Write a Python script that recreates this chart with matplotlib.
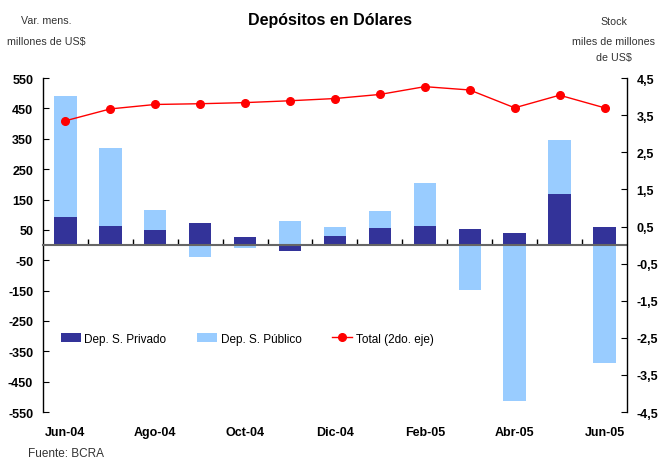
import numpy as np
import matplotlib.pyplot as plt
from matplotlib.ticker import FixedLocator, FuncFormatter

months = ['Jun-04', 'Jul-04', 'Ago-04', 'Sep-04', 'Oct-04', 'Nov-04', 'Dic-04',
          'Ene-05', 'Feb-05', 'Mar-05', 'Abr-05', 'May-05', 'Jun-05']
privado = [93, 64, 49, 72, 26, -19, 31, 56, 63, 53, 40, 168, 59]
publico = [399, 256, 66, -38, -9, 79, 29, 56, 141, -147, -513, 178, -388]
total = [3.35, 3.67, 3.79, 3.81, 3.84, 3.89, 3.95, 4.06, 4.27, 4.18, 3.70, 4.04, 3.70]

narrow = ['Liberation Sans Narrow', 'Liberation Sans', 'DejaVu Sans']
plt.rcParams['font.family'] = ['Liberation Sans', 'DejaVu Sans']
plt.rcParams['axes.unicode_minus'] = False

dark = '#333399'
light = '#99CCFF'
red = '#FF0000'

fig = plt.figure(figsize=(6.6, 4.6), dpi=100)
ax = fig.add_axes([0.065, 0.102, 0.885, 0.726])
ax2 = ax.twinx()

x = np.arange(len(months))
priv = np.array(privado)
pub = np.array(publico)
# excel-style stacking: positives stack up, negatives stack down
base_pub = np.where(np.sign(pub) == np.sign(priv), priv, 0)
b1 = ax.bar(x, priv, width=0.5, color=dark, label='Dep. S. Privado', zorder=2)
b2 = ax.bar(x, pub, width=0.5, bottom=base_pub, color=light, label='Dep. S. Público', zorder=2)

l1, = ax2.plot(x, total, color=red, lw=1, marker='o', ms=5.5, label='Total (2do. eje)')

ax.set_xlim(-0.5, len(months) - 0.5)
ax.set_ylim(-550, 550)
ax2.set_ylim(-4.5, 4.5)

ax.set_yticks(np.arange(-550, 551, 100))
ax2.set_yticks(np.arange(-4.5, 4.6, 1.0))
ax2.yaxis.set_major_formatter(FuncFormatter(lambda v, p: f'{v:.1f}'.replace('.', ',')))

for a in (ax, ax2):
    a.spines['top'].set_visible(False)
ax2.spines['bottom'].set_visible(False)
ax.spines['right'].set_visible(False)
ax2.spines['left'].set_visible(False)
ax.spines['bottom'].set_position(('data', 0))
ax.spines['bottom'].set_color('#666666')
ax.spines['bottom'].set_linewidth(1.5)
ax.spines['left'].set_linewidth(1)
ax2.spines['right'].set_linewidth(1)

ax.set_xticks(x[::2])
ax.set_xticklabels(months[::2])
ax.xaxis.set_minor_locator(FixedLocator(x[:-1] + 0.5))
ax.tick_params(axis='x', which='major', length=0, pad=130, labelsize=9)
ax.tick_params(axis='x', which='minor', direction='in', length=4, width=1, color='black')
ax.tick_params(axis='y', direction='in', length=4, labelsize=9, pad=7)
ax2.tick_params(axis='y', direction='in', length=4, labelsize=9, pad=7)
for lab in ax.get_xticklabels() + ax.get_yticklabels() + ax2.get_yticklabels():
    lab.set_fontweight('bold')

ax2.legend([b1, b2, l1], ['Dep. S. Privado', 'Dep. S. Público', 'Total (2do. eje)'],
           loc='center', bbox_to_anchor=(0.35, 0.22), ncol=3, frameon=False,
           prop={'family': narrow, 'size': 8.5}, handlelength=1.7, handleheight=0.85,
           columnspacing=2.6, handletextpad=0.3)

fig.text(0.5, 0.955, 'Depósitos en Dólares', ha='center', va='center',
         fontsize=11.5, fontweight='bold', family=narrow)
fig.text(0.07, 0.955, 'Var. mens.', ha='center', va='center', fontsize=7.7, family=narrow, color='#333333')
fig.text(0.07, 0.908, 'millones de US$', ha='center', va='center', fontsize=7.7, family=narrow, color='#333333')
fig.text(0.93, 0.952, 'Stock', ha='center', va='center', fontsize=7.7, family=narrow, color='#333333')
fig.text(0.93, 0.908, 'miles de millones', ha='center', va='center', fontsize=7.7, family=narrow, color='#333333')
fig.text(0.93, 0.875, 'de US$', ha='center', va='center', fontsize=7.7, family=narrow, color='#333333')
fig.text(0.042, 0.013, 'Fuente: BCRA', ha='left', va='center', fontsize=8.5, family=narrow, color='#333333')

fig.savefig('out.png', dpi=100)
